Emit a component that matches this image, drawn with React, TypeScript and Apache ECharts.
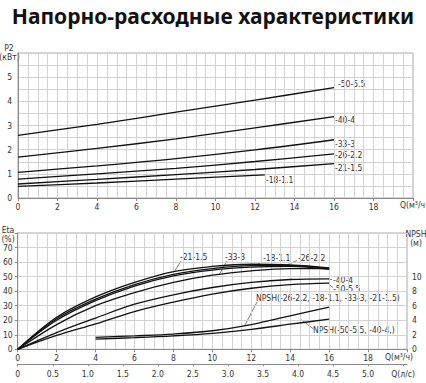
import React, { useEffect, useRef } from 'react';
import * as echarts from 'echarts';

// ---------- DATA ----------
// Top chart: power P2 (kW) vs flow Q (m3/h)
const qTop = [0, 4, 8, 12, 16];
const p2_50_55 = [2.59, 3.05, 3.55, 4.05, 4.57];
const p2_40_4 = [1.69, 2.05, 2.45, 2.9, 3.37];
const p2_33_3 = [1.06, 1.33, 1.63, 1.99, 2.41];
const p2_26_22 = [0.78, 1.0, 1.23, 1.51, 1.83];
const p2_21_15 = [0.58, 0.77, 0.97, 1.18, 1.42];
const qTop18 = [0, 4, 8, 12.5];
const p2_18_11 = [0.48, 0.62, 0.78, 0.96];

// Bottom chart: efficiency (%) vs flow Q (m3/h)
const qEta = [0, 2, 4, 6, 8, 10, 12, 14, 16];
const eta_21_15 = [0, 22, 36, 46, 53.5, 57, 58.5, 58, 56];
const eta_33_3 = [0, 21, 34.5, 44.5, 51.5, 55.5, 57.5, 57.5, 55.5];
const eta_18_11 = [0, 20, 33.5, 43.5, 50.5, 54.5, 56.5, 57, 55];
const eta_26_22 = [0, 17, 30, 39, 46, 51, 54, 55.5, 55.5];
const eta_40_4 = [0, 11.5, 21.5, 31, 37.5, 42.5, 46, 48, 48.5];
const eta_50_55 = [0, 9.5, 17.5, 26, 32.5, 38, 42, 44.5, 45.5];

// NPSH (m) vs flow Q (m3/h)
const qNpsh = [4, 6, 8, 10, 12, 14, 16];
const npshSmall = [1.65, 1.85, 2.1, 2.55, 3.4, 4.6, 5.8];
const npshLarge = [1.4, 1.6, 1.85, 2.2, 2.75, 3.45, 4.15];

const title = 'Напорно-расходные характеристики';

// ---------- STYLE ----------
const FONT = "'Liberation Sans Narrow', 'DejaVu Sans Condensed', 'Noto Sans', sans-serif";
const FS = 8.5;
const TXT = '#333';
const GRIDC = '#d2d2d2';
const AXC = '#8a8a8a';

const pair = (xs: number[], ys: number[]) => xs.map((x, i) => [x, ys[i]]);

function lineSeries(name: string, xs: number[], ys: number[], xi: number, yi: number) {
  return {
    type: 'line',
    name,
    xAxisIndex: xi,
    yAxisIndex: yi,
    data: pair(xs, ys),
    smooth: 0.35,
    showSymbol: false,
    symbol: 'none',
    silent: true,
    lineStyle: { color: '#111', width: 1.3 },
  };
}

function txt(text: string, x: number, y: number, align = 'left', size = FS) {
  return {
    type: 'text',
    silent: true,
    style: {
      text,
      x,
      y,
      fill: TXT,
      font: `${size}px ${FONT}`,
      textAlign: align,
      textVerticalAlign: 'middle',
      align,
      verticalAlign: 'middle',
    },
  };
}

function lead(x1: number, y1: number, x2: number, y2: number) {
  return {
    type: 'line',
    silent: true,
    shape: { x1, y1, x2, y2 },
    style: { stroke: '#444', lineWidth: 0.7 },
  };
}

const axisLabelStyle = { color: TXT, fontSize: FS, fontFamily: FONT };

export default function App() {
  const ref = useRef<HTMLDivElement>(null);
  useEffect(() => {
    if (!ref.current) return;
    const chart = echarts.init(ref.current, undefined, { renderer: 'svg' });
    const option: any = {
      animation: false,
      backgroundColor: '#fff',
      title: {
        text: title,
        left: 'center',
        top: 0,
        textStyle: { fontSize: 21, fontWeight: 'bold', color: '#111', fontFamily: "'Noto Sans', sans-serif" },
      },
      grid: [
        { left: 18, top: 53, width: 395, height: 145, show: true, borderColor: '#aaa', borderWidth: 1, backgroundColor: 'transparent' },
        { left: 17, top: 233, width: 390, height: 116.3, show: true, borderColor: '#aaa', borderWidth: 1, backgroundColor: 'transparent' },
      ],
      xAxis: [
        {
          type: 'value', gridIndex: 0, min: 0, max: 20, interval: 2,
          axisLine: { show: true, lineStyle: { color: AXC } },
          axisTick: { show: true, length: 3, lineStyle: { color: AXC } },
          axisLabel: { ...axisLabelStyle, margin: 4, formatter: (v: number) => (v >= 20 ? '' : String(v)) },
          splitLine: { show: true, lineStyle: { color: GRIDC, width: 1 } },
          minorTick: { show: false, splitNumber: 4 },
          minorSplitLine: { show: true, lineStyle: { color: GRIDC, width: 1 } },
        },
        {
          type: 'value', gridIndex: 1, min: 0, max: 20, interval: 2,
          axisLine: { show: true, lineStyle: { color: AXC } },
          axisTick: { show: true, length: 3, lineStyle: { color: AXC } },
          axisLabel: { ...axisLabelStyle, margin: 4, formatter: (v: number) => (v >= 20 ? '' : String(v)) },
          splitLine: { show: true, lineStyle: { color: GRIDC, width: 1 } },
          minorTick: { show: false, splitNumber: 4 },
          minorSplitLine: { show: true, lineStyle: { color: GRIDC, width: 1 } },
        },
        {
          type: 'value', gridIndex: 1, min: 0, max: 20 / 3.6, interval: 0.5, position: 'bottom', offset: 15,
          axisLine: { show: true, onZero: false, lineStyle: { color: AXC } },
          axisTick: { show: true, length: 2, lineStyle: { color: AXC } },
          axisLabel: {
            ...axisLabelStyle, margin: 5, showMaxLabel: false,
            formatter: (v: number) => (v === 0 ? '0' : Math.abs(v - 5.5) < 1e-6 ? 'Q(л/с)' : v > 5.5 ? '' : v.toFixed(1)),
          },
          splitLine: { show: false },
        },
      ],
      yAxis: [
        {
          type: 'value', gridIndex: 0, min: 0, max: 6, interval: 1,
          axisLine: { show: true, lineStyle: { color: AXC } },
          axisTick: { show: false },
          axisLabel: { ...axisLabelStyle, margin: 6, formatter: (v: number) => (v >= 6 ? '' : String(v)) },
          splitLine: { show: true, lineStyle: { color: GRIDC, width: 1 } },
          minorTick: { show: false, splitNumber: 2 },
          minorSplitLine: { show: true, lineStyle: { color: GRIDC, width: 1 } },
        },
        {
          type: 'value', gridIndex: 1, min: 0, max: 80, interval: 10,
          axisLine: { show: true, lineStyle: { color: AXC } },
          axisTick: { show: false },
          axisLabel: { ...axisLabelStyle, margin: 5, formatter: (v: number) => (v >= 80 ? '' : String(v)) },
          splitLine: { show: true, lineStyle: { color: GRIDC, width: 1 } },
        },
        {
          type: 'value', gridIndex: 1, min: 0, max: 16, interval: 2, position: 'right',
          axisLine: { show: true, lineStyle: { color: AXC } },
          axisTick: { show: true, length: 3, inside: true, lineStyle: { color: AXC } },
          axisLabel: { ...axisLabelStyle, margin: 5, formatter: (v: number) => (v > 10 ? '' : String(v)) },
          splitLine: { show: false },
        },
      ],
      series: [
        lineSeries('-50-5.5', qTop, p2_50_55, 0, 0),
        lineSeries('-40-4', qTop, p2_40_4, 0, 0),
        lineSeries('-33-3', qTop, p2_33_3, 0, 0),
        lineSeries('-26-2.2', qTop, p2_26_22, 0, 0),
        lineSeries('-21-1.5', qTop, p2_21_15, 0, 0),
        lineSeries('-18-1.1', qTop18, p2_18_11, 0, 0),
        lineSeries('Eta -21-1.5', qEta, eta_21_15, 1, 1),
        lineSeries('Eta -33-3', qEta, eta_33_3, 1, 1),
        lineSeries('Eta -18-1.1', qEta, eta_18_11, 1, 1),
        lineSeries('Eta -26-2.2', qEta, eta_26_22, 1, 1),
        lineSeries('Eta -40-4', qEta, eta_40_4, 1, 1),
        lineSeries('Eta -50-5.5', qEta, eta_50_55, 1, 1),
        lineSeries('NPSH small', qNpsh, npshSmall, 1, 2),
        lineSeries('NPSH large', qNpsh, npshLarge, 1, 2),
      ],
      graphic: [
        // axis names
        txt('P2', 9, 48, 'center'),
        txt('(кВт)', 9.5, 57, 'center'),
        txt('Q(м³/ч', 425, 205, 'right'),
        txt('Eta', 8, 230, 'center'),
        txt('(%)', 8, 238.5, 'center'),
        txt('NPSH', 416, 234, 'center'),
        txt('(м)', 416, 242.5, 'center'),
        txt('Q(м³/ч)', 399, 357, 'center'),
        // top chart curve labels
        txt('-50-5.5', 338, 83.5),
        txt('-40-4', 335, 120),
        txt('-33-3', 335, 143.5),
        txt('-26-2.2', 335, 155),
        txt('-21-1.5', 335, 167.5),
        txt('-18-1.1', 266, 180),
        // bottom chart labels
        txt('-21-1.5', 180, 257),
        lead(181, 261, 175, 270.5),
        txt('-33-3', 225, 257),
        lead(227, 261, 219.5, 274),
        txt('-18-1.1', 263, 258),
        lead(262, 261.5, 255, 266),
        txt('-26-2.2', 298, 258),
        lead(297, 260.5, 287, 265),
        txt('-40-4', 333, 279.5),
        lead(328.5, 279.5, 332, 279.5),
        txt('-50-5.5', 333, 288.5),
        lead(328.5, 284, 333, 287.5),
        txt('NPSH(-26-2.2, -18-1.1, -33-3, -21-1.5)', 256, 298),
        lead(257, 302, 245, 325),
        txt('NPSH(-50-5.5, -40-4,)', 313, 329.5),
        lead(313, 328.5, 301, 319.5),
      ],
    };
    chart.setOption(option);
    return () => chart.dispose();
  }, []);
  return (
    <div
      ref={ref}
      style={{ position: 'fixed', left: 0, top: 0, width: 426, height: 383, background: '#fff' }}
    />
  );
}
